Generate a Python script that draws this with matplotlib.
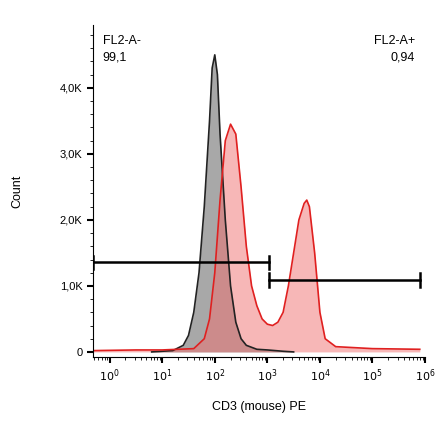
import matplotlib
matplotlib.use("Agg")
import matplotlib.pyplot as plt
import numpy as np
from matplotlib.ticker import FixedLocator, NullFormatter
plt.rcParams['font.family'] = ['Liberation Sans', 'DejaVu Sans']

gray_logx = [0.8,1.2,1.4,1.5,1.6,1.7,1.8,1.9,1.95,2.0,2.05,2.1,2.2,2.3,2.4,2.5,2.6,2.8,3.0,3.3,3.5]
gray_cnt  = [0,0.02,0.1,0.25,0.6,1.2,2.2,3.5,4.3,4.5,4.2,3.3,2.0,1.0,0.45,0.2,0.1,0.04,0.03,0.01,0]
red_logx = [-0.32,0.5,1.0,1.6,1.8,1.9,2.0,2.1,2.2,2.3,2.4,2.5,2.6,2.7,2.8,2.9,3.0,3.1,3.2,3.3,3.4,3.5,3.6,3.7,3.75,3.8,3.9,4.0,4.1,4.3,5.0,5.9]
red_cnt  = [0.02,0.03,0.03,0.05,0.2,0.5,1.2,2.3,3.2,3.45,3.3,2.5,1.6,1.0,0.7,0.5,0.42,0.4,0.45,0.6,1.0,1.5,2.0,2.25,2.3,2.2,1.5,0.6,0.2,0.08,0.05,0.04]
gate_neg = (10**-0.32, 10**3.03, 1.36)
gate_pos = (10**3.03, 10**5.9, 1.09)
ytick_vals = [0,1,2,3,4]
ytick_labels = ["0","1,0K","2,0K","3,0K","4,0K"]

fig = plt.figure(figsize=(4.4,4.41), dpi=100)
ax = fig.add_axes([0.211,0.19,0.755,0.753])
ax.set_xscale("log")
gx = 10**np.array(gray_logx); rx = 10**np.array(red_logx)
ax.fill_between(gx, gray_cnt, color="#a8a8a8", lw=0)
ax.plot(gx, gray_cnt, color="#222222", lw=1.2)
ax.fill_between(rx, red_cnt, color="#f07070", alpha=0.5, lw=0)
ax.plot(rx, red_cnt, color="#e02020", lw=1.2)
for x0,x1,y in (gate_neg, gate_pos):
    ax.plot([x0,x1],[y,y],color="black",lw=1.8)
    ax.plot([x0,x0],[y-0.1,y+0.1],color="black",lw=1.8)
    ax.plot([x1,x1],[y-0.1,y+0.1],color="black",lw=1.8)
ax.set_xlim(10**-0.32, 10**5.9)
ax.set_ylim(-0.08, 4.95)
for s in ("top","right"):
    ax.spines[s].set_visible(False)
ax.set_yticks(ytick_vals); ax.set_yticklabels(ytick_labels, fontsize=8)
ax.yaxis.set_minor_locator(FixedLocator(np.arange(0,4.95,0.2)))
ax.set_xticks([10**i for i in range(7)])
ax.set_xticklabels([f"$10^{i}$" for i in range(7)], fontsize=8)
ax.xaxis.set_minor_locator(FixedLocator([k*10**i for i in range(-1,6) for k in range(2,10)]))
ax.xaxis.set_minor_formatter(NullFormatter())
ax.tick_params(which="major", length=4, width=1.5)
ax.tick_params(which="minor", length=2.5)
ax.set_xlabel("CD3 (mouse) PE", fontsize=9, labelpad=12)
ax.set_ylabel("Count", fontsize=9, labelpad=26)
ax.text(0.03,0.97,"FL2-A-\n99,1",transform=ax.transAxes,va="top",ha="left",fontsize=9,linespacing=1.5)
ax.text(0.97,0.97,"FL2-A+\n0,94",transform=ax.transAxes,va="top",ha="right",fontsize=9,linespacing=1.5,multialignment="right")
fig.savefig("out.png", dpi=100)
